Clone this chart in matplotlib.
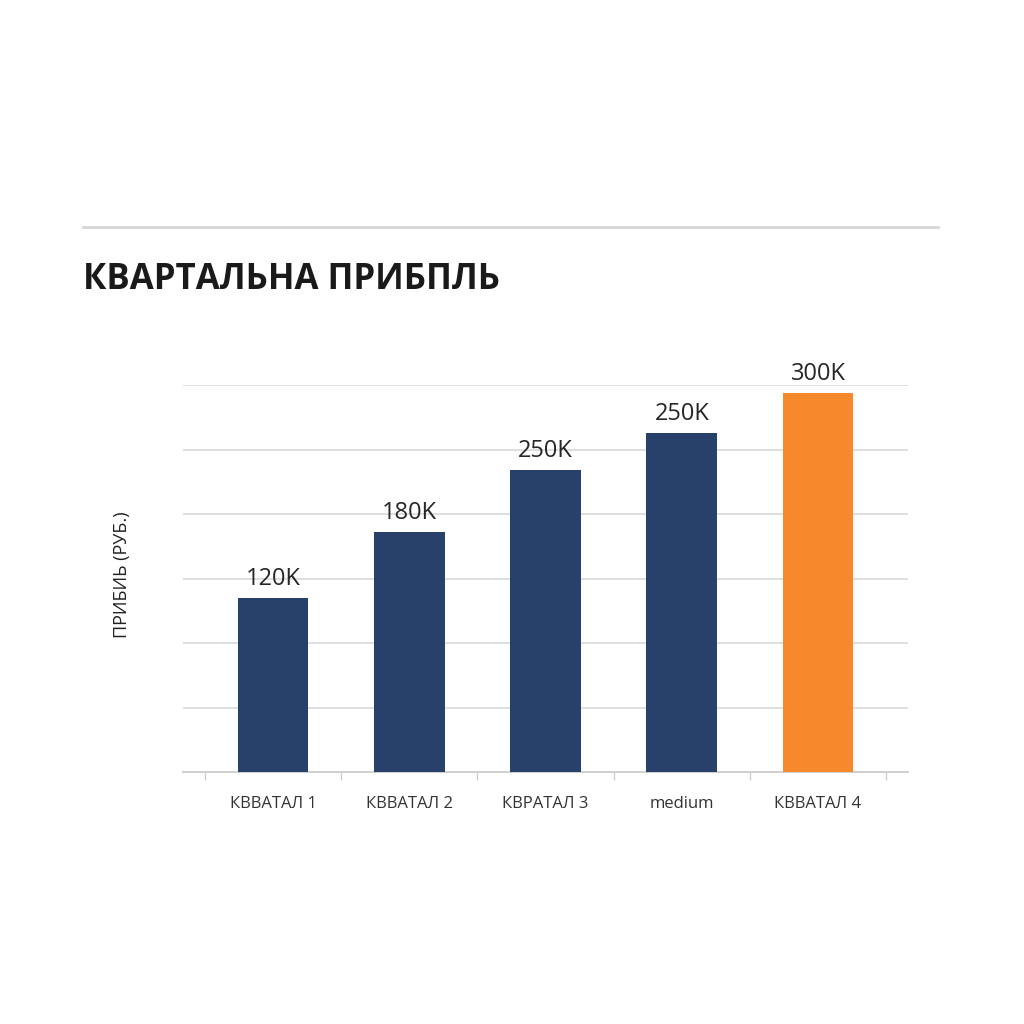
import matplotlib
matplotlib.use("Agg")
import matplotlib.pyplot as plt
from matplotlib.ticker import FixedLocator

categories = ["КВВАТАЛ 1", "КВВАТАЛ 2", "КВРАТАЛ 3", "medium", "КВВАТАЛ 4"]
values = [135, 186, 234, 263, 294]
value_labels = ["120K", "180K", "250K", "250K", "300K"]
colors = ["#28416B", "#28416B", "#28416B", "#28416B", "#F5892B"]
grid_levels = [50, 100, 150, 200, 250, 300]

plt.rcParams['font.family'] = ['Open Sans', 'DejaVu Sans']

fig = plt.figure(figsize=(10.24, 10.24), dpi=100)
fig.patch.set_facecolor("white")

ax = fig.add_axes([183/1024, 1-772/1024, (908-183)/1024, (772-385)/1024])
x = list(range(len(categories)))
bars = ax.bar(x, values, width=0.52, color=colors, zorder=3)

for xi, v, lab in zip(x, values, value_labels):
    ax.annotate(lab, (xi, v), xytext=(0, 5), textcoords="offset points",
                ha="center", va="bottom", fontsize=17, color="#262626", zorder=4)

ax.set_xlim(-0.66, 4.66)
ax.set_ylim(0, 300)
ax.set_yticks(grid_levels)
ax.yaxis.grid(True, color="#dcdcdc", linewidth=1.3, zorder=0)
ax.tick_params(axis="y", left=False, labelleft=False)

ax.set_xticks(x)
ax.set_xticklabels(categories, fontsize=12, color="#333333")
ax.tick_params(axis="x", which="major", length=0, pad=17)
ax.xaxis.set_minor_locator(FixedLocator([-0.5, 0.5, 1.5, 2.5, 3.5, 4.5]))
ax.tick_params(axis="x", which="minor", length=6, color="#cccccc", width=1.0)

for s in ["top", "right", "left"]:
    ax.spines[s].set_visible(False)
ax.spines["bottom"].set_color("#cccccc")
ax.spines["bottom"].set_linewidth(1.3)

fig.text(122/1024, 1-575/1024, "ПРИБИЬ (РУБ.)", rotation=90, ha="center", va="center",
         fontsize=13, color="#222222")

fig.text(83/1024, 1-280/1024, "КВАРТАЛЬНА ПРИБПЛЬ", ha="left", va="center",
         fontsize=25, fontweight="bold", color="#1a1a1a")

fig.add_artist(plt.Line2D([83/1024, 938/1024], [1-227/1024, 1-227/1024],
                          color="#d6d6d6", linewidth=2))

fig.savefig("out.png", dpi=100, facecolor="white")
